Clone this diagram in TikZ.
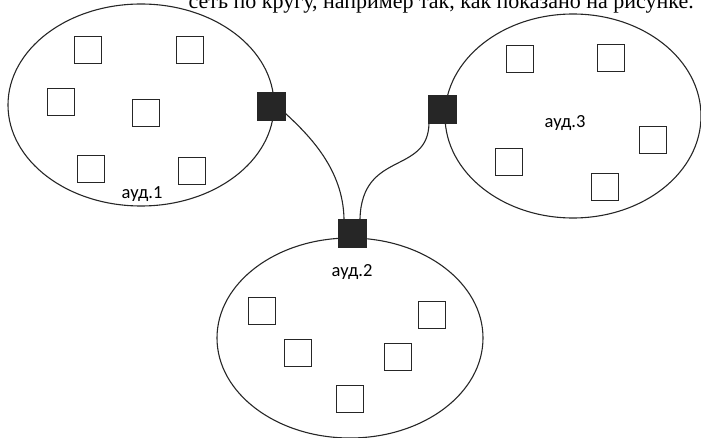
\documentclass[tikz,border=0pt]{standalone}
\usepackage{fontspec}
\setmainfont{Liberation Serif}
\newfontfamily\lblfont{Carlito}
\usetikzlibrary{shapes.geometric}
\begin{document}
\begin{tikzpicture}[x=1pt,y=-1pt,
  room/.style={draw=black!85,line width=1.1pt,ellipse,inner sep=0pt},
  pc/.style={draw=black!85,line width=1.3pt,minimum size=27pt,inner sep=0pt,fill=white},
  hub/.style={draw=black!85,fill=black!85,minimum size=28pt,inner sep=0pt},
  cable/.style={draw=black!85,line width=1.1pt},
  lbl/.style={font=\lblfont\fontsize{18.5}{20}\selectfont,inner sep=0pt}]
\useasboundingbox (0,0) rectangle (701,438);
% cut-off text line at the top
\node[anchor=base east,inner sep=0pt,font=\fontsize{22}{24}\selectfont] (hdr) at (694,9) {сеть по кругу, например так, как показано на рисунке.};
% rooms
\node[room,minimum width=266pt,minimum height=202pt] (r1) at (141,105) {};
\node[room,minimum width=256pt,minimum height=204pt] (r3) at (573,116) {};
\node[room,minimum width=266pt,minimum height=200pt] (r2) at (350,338) {};
% computers room 1
\node[pc] (a1) at (88,50) {};
\node[pc] (a2) at (190,50) {};
\node[pc] (a3) at (61,102) {};
\node[pc] (a4) at (146,113) {};
\node[pc] (a5) at (91,169) {};
\node[pc] (a6) at (192,171) {};
% computers room 3
\node[pc] (c1) at (520,59) {};
\node[pc] (c2) at (611,58) {};
\node[pc] (c3) at (653,140) {};
\node[pc] (c4) at (509,162) {};
\node[pc] (c5) at (605,187) {};
% computers room 2
\node[pc] (b1) at (262,311) {};
\node[pc] (b2) at (432,315) {};
\node[pc] (b3) at (298,353) {};
\node[pc] (b4) at (398,357) {};
\node[pc] (b5) at (350,399) {};
% labels
\node[lbl] (l1) at (142,194) {ауд.1};
\node[lbl] (l2) at (352,272) {ауд.2};
\node[lbl] (l3) at (565,123) {ауд.3};
% hubs
\node[hub] (p1) at (271,106) {};
\node[hub] (p3) at (442,109) {};
\node[hub] (p2) at (352,233) {};
% cables
\draw[cable] ([yshift=7pt]p1.south east) .. controls +(25,23) and +(-1,-49) .. ([xshift=-8pt]p2.north);
\draw[cable] ([xshift=-13pt]p3.south) .. controls +(-1,52) and +(2,-69) .. ([xshift=8pt]p2.north);
\end{tikzpicture}
\end{document}
